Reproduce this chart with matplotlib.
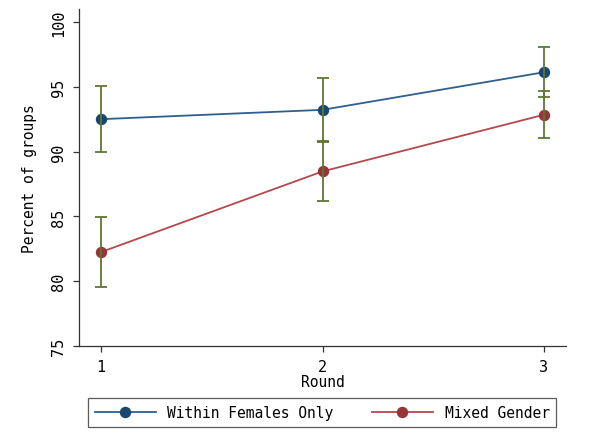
import matplotlib
matplotlib.use("Agg")
import matplotlib.pyplot as plt

rounds = [1, 2, 3]
within_females = [92.5, 93.22, 96.12]
within_err = [2.55, 2.44, 1.93]
mixed_gender = [82.25, 88.47, 92.84]
mixed_err = [2.72, 2.28, 1.82]
labels = ["Within Females Only", "Mixed Gender"]
yticks = [75, 80, 85, 90, 95, 100]

plt.rcParams['font.family'] = ['DejaVu Sans Mono']

fig = plt.figure(figsize=(6.01, 4.39), dpi=100)
ax = fig.add_axes([79/601, 1-347/439, (566-79)/601, (347-10)/439])

navy = "#1a476f"
navy_line = "#2f5f8f"
maroon = "#943539"
maroon_line = "#b5484d"
olive = "#5f7733"

ax.plot(rounds, within_females, color=navy_line, lw=1.3, zorder=2,
        marker='o', ms=7.2, mfc=navy, mec=navy, label=labels[0])
ax.plot(rounds, mixed_gender, color=maroon_line, lw=1.3, zorder=2,
        marker='o', ms=7.2, mfc=maroon, mec=maroon, label=labels[1])
ax.errorbar(rounds, within_females, yerr=within_err, fmt='none', ecolor=olive,
            elinewidth=1.3, capsize=4, capthick=1.3, zorder=3)
ax.errorbar(rounds, mixed_gender, yerr=mixed_err, fmt='none', ecolor=olive,
            elinewidth=1.3, capsize=4, capthick=1.3, zorder=3)

ax.set_xlim(0.9, 3.1)
ax.set_ylim(75, 101)
ax.set_xticks(rounds)
ax.set_yticks(yticks)
ax.set_yticklabels([str(v) for v in yticks], rotation=90, va='center')
ax.tick_params(axis='both', labelsize=11, length=4.5, width=0.9, color='#333333', pad=5)
for s in ['top', 'right']:
    ax.spines[s].set_visible(False)
for s in ['left', 'bottom']:
    ax.spines[s].set_color('#333333')
    ax.spines[s].set_linewidth(0.9)

ax.set_xlabel("Round", fontsize=10.5, labelpad=0)
ax.set_ylabel("Percent of groups", fontsize=10.5, labelpad=10)

leg = fig.legend(loc='center', bbox_to_anchor=(322/601, 1-413.5/439), ncol=2,
                 fontsize=10.5, frameon=True, fancybox=False, edgecolor='#333333',
                 handlelength=4.2, columnspacing=2.6, borderpad=0.45)
leg.get_frame().set_linewidth(0.9)

fig.savefig("out.png", dpi=100, facecolor='white')
